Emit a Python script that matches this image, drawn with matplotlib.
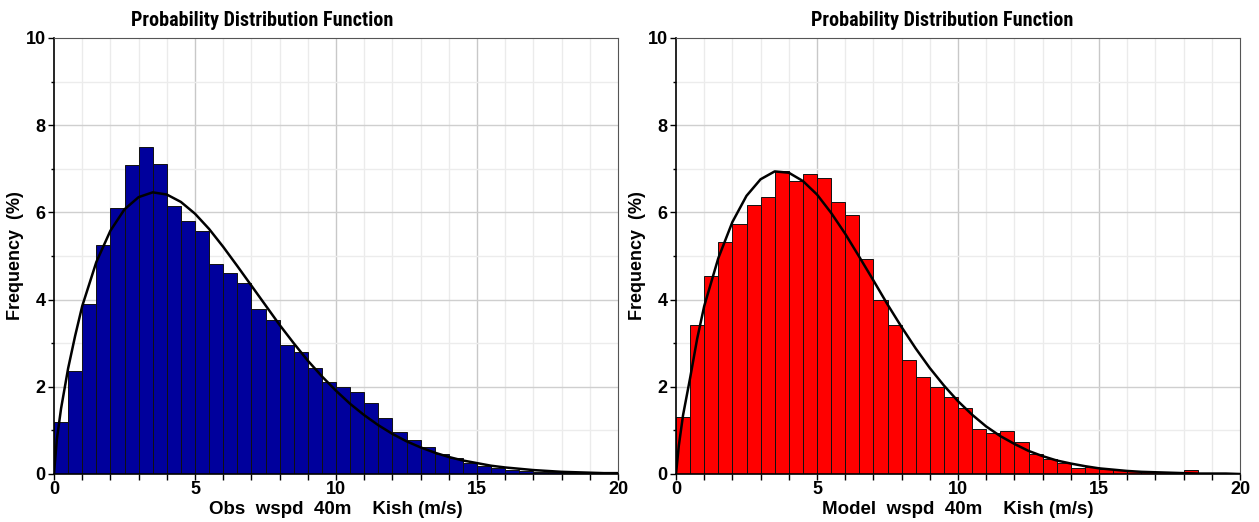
import numpy as np
import matplotlib
matplotlib.use("Agg")
import matplotlib.pyplot as plt
from matplotlib.ticker import MultipleLocator

# Klassen: 40 Bins a 0.5 m/s von 0 bis 20
bin_width = 0.5
bin_left = np.arange(0, 20, bin_width)

# Haeufigkeiten in %
obs_freq = [1.20, 2.36, 3.89, 5.25, 6.10, 7.08, 7.50, 7.11, 6.15, 5.81,
            5.58, 4.82, 4.62, 4.38, 3.79, 3.54, 2.97, 2.80, 2.42, 2.12,
            1.99, 1.89, 1.62, 1.29, 0.96, 0.77, 0.62, 0.45, 0.37, 0.25,
            0.18, 0.14, 0.10, 0.07, 0.05, 0.04, 0.03, 0.02, 0.02, 0.01]
model_freq = [1.31, 3.42, 4.54, 5.31, 5.73, 6.17, 6.36, 6.94, 6.72, 6.88,
              6.79, 6.25, 5.95, 4.93, 3.99, 3.42, 2.62, 2.22, 1.99, 1.77,
              1.52, 1.03, 0.94, 0.99, 0.74, 0.47, 0.35, 0.25, 0.13, 0.15,
              0.12, 0.10, 0.08, 0.06, 0.04, 0.04, 0.09, 0.02, 0.01, 0.01]

# angepasste Kurve
curve_x = [0, 0.1, 0.25, 0.5, 0.75, 1, 1.5, 2, 2.5, 3, 3.5, 4, 4.5, 5, 5.5,
           6, 6.5, 7, 7.5, 8, 8.5, 9, 9.5, 10, 10.5, 11, 11.5, 12, 12.5, 13,
           13.5, 14, 14.5, 15, 15.5, 16, 16.5, 17, 17.5, 18, 18.5, 19, 19.5, 20]
obs_curve = [0.00, 0.79, 1.50, 2.42, 3.17, 3.85, 4.86, 5.58, 6.07, 6.35,
             6.46, 6.41, 6.24, 5.97, 5.62, 5.21, 4.77, 4.32, 3.87, 3.42,
             3.00, 2.60, 2.24, 1.91, 1.61, 1.35, 1.12, 0.92, 0.75, 0.61,
             0.49, 0.39, 0.31, 0.25, 0.19, 0.15, 0.12, 0.09, 0.07, 0.05,
             0.04, 0.03, 0.02, 0.02]
model_curve = [0.00, 0.65, 1.35, 2.20, 3.10, 3.85, 4.95, 5.78, 6.38, 6.76,
               6.94, 6.91, 6.72, 6.41, 5.99, 5.51, 4.98, 4.44, 3.89, 3.37,
               2.88, 2.43, 2.03, 1.67, 1.36, 1.09, 0.87, 0.69, 0.53, 0.41,
               0.31, 0.24, 0.18, 0.13, 0.10, 0.07, 0.05, 0.04, 0.03, 0.02,
               0.01, 0.01, 0.01, 0.00]

panels = [
    (obs_freq, obs_curve, "#00009C", "Obs  wspd  40m    Kish (m/s)"),
    (model_freq, model_curve, "#FF0000", "Model  wspd  40m    Kish (m/s)"),
]

plt.rcParams['font.family'] = ['Liberation Sans', 'DejaVu Sans']

W, H = 1259, 522
fig = plt.figure(figsize=(W / 100, H / 100), dpi=100)
lefts = [54, 676]
title_x = [262, 942]

for i, (freq, curve, col, xlabel) in enumerate(panels):
    ax = fig.add_axes([lefts[i] / W, 48 / H, 564 / W, 436 / H])

    # Gitter: fein je 1, kraeftiger bei 5 bzw. 2
    for v in range(1, 20):
        ax.axvline(v, color="#c8c8c8" if v % 5 == 0 else "#ebebeb", lw=1.0, zorder=0)
    for v in range(1, 10):
        ax.axhline(v, color="#cfcfcf" if v % 2 == 0 else "#ececec", lw=1.0, zorder=0)

    ax.bar(bin_left, freq, width=bin_width, align="edge", color=col,
           edgecolor="#111111", linewidth=0.7, zorder=2)
    ax.plot(curve_x, curve, color="black", lw=1.8, zorder=3)

    ax.set_xlim(0, 20)
    ax.set_ylim(0, 10)
    ax.xaxis.set_major_locator(MultipleLocator(5))
    ax.xaxis.set_minor_locator(MultipleLocator(1))
    ax.yaxis.set_major_locator(MultipleLocator(2))
    ax.yaxis.set_minor_locator(MultipleLocator(1))
    ax.tick_params(axis="x", which="both", direction="out", length=4, width=1, pad=1)
    ax.tick_params(axis="y", which="major", direction="out", length=4, width=1, pad=2)
    ax.tick_params(axis="y", which="minor", direction="out", length=2.5, width=1)
    for lab in ax.get_xticklabels() + ax.get_yticklabels():
        lab.set_fontsize(13)
        lab.set_fontweight("bold")

    ax.spines["left"].set_color("black")
    ax.spines["bottom"].set_color("black")
    ax.spines["left"].set_linewidth(1.2)
    ax.spines["bottom"].set_linewidth(1.2)
    ax.spines["top"].set_color("#555555")
    ax.spines["right"].set_color("#555555")

    ax.set_xlabel(xlabel, fontsize=13.5, fontweight="bold", labelpad=2)
    ax.set_ylabel("Frequency  (%)", fontsize=13, fontweight="bold", labelpad=1)

    # Titel sitzt im Original nicht mittig ueber der Achse
    fig.text(title_x[i] / W, 1 - 21 / H, "Probability Distribution Function",
             family=["Roboto Condensed", "Liberation Sans"], fontsize=14.5,
             fontweight="bold", ha="center", va="center")

fig.savefig("out.png", dpi=100)
